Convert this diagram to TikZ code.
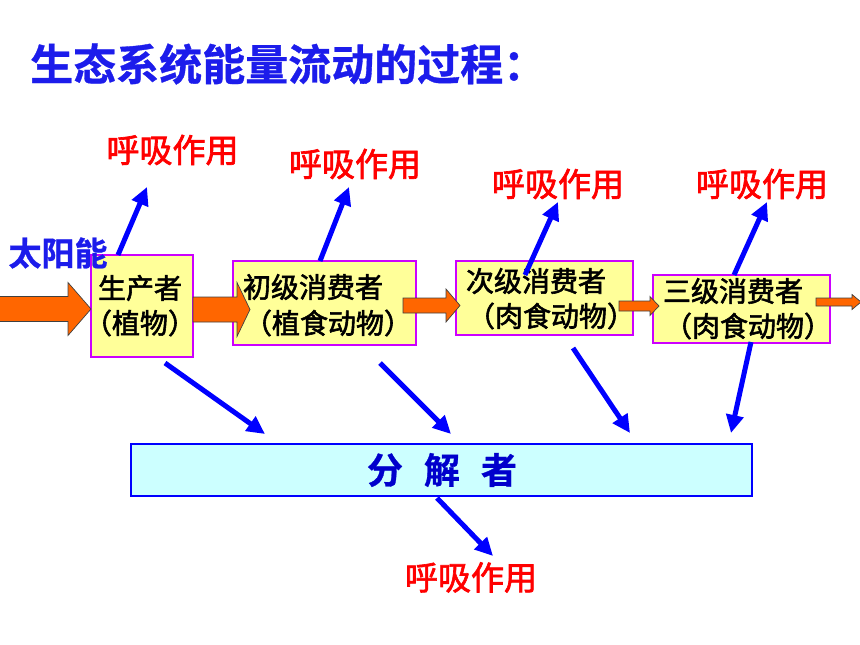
\documentclass[tikz,border=0pt]{standalone}
\usepackage{fontspec}
\setmainfont{Noto Sans CJK SC}
\newfontfamily\cjk[FakeBold=2]{Noto Sans CJK SC}
\newfontfamily\cjkb[FakeBold=0.8]{Noto Sans CJK SC Bold}
\usetikzlibrary{arrows.meta}
\definecolor{ttlblue}{RGB}{28,28,235}
\definecolor{boxmag}{RGB}{204,0,255}
\definecolor{boxyel}{RGB}{255,255,153}
\definecolor{decfill}{RGB}{204,255,255}
\definecolor{decblue}{RGB}{0,0,204}
\definecolor{flowor}{RGB}{255,102,0}
\tikzset{
  lbl/.style={text=red, font=\cjk\fontsize{33}{36}\selectfont, inner sep=0pt},
  boxtxt/.style={font=\cjk\fontsize{28}{30}\selectfont, inner sep=0pt},
  orgbox/.style={draw=boxmag, line width=2pt, fill=boxyel, inner sep=0pt},
  decbox/.style={draw=blue, line width=2.5pt, fill=decfill, inner sep=0pt},
  flow/.style={draw=black!75, line width=0.7pt, fill=flowor},
  resp/.style={draw=blue, line width=5pt, -{Triangle[length=18pt,width=17pt]}},
}
\newcommand\blockarr[6]{%
  \filldraw[flow] (#1,#4-#5) -- (#2,#4-#5) -- (#2,#4-#6) -- (#3,#4) -- (#2,#4+#6) -- (#2,#4+#5) -- (#1,#4+#5) -- cycle;}
\begin{document}
\begin{tikzpicture}[x=1pt,y=-1pt]
\useasboundingbox (0,0) rectangle (860,645);
% title
\node[anchor=west, inner sep=0pt, text=ttlblue, font=\cjkb\fontsize{43}{46}\selectfont] (title) at (30,64) {生态系统能量流动的过程：};
% organism boxes
\node[orgbox, minimum width=102pt, minimum height=102pt] (b1) at (142,306) {};
\node[orgbox, minimum width=183pt, minimum height=84pt] (b2) at (324.5,303) {};
\node[orgbox, minimum width=177pt, minimum height=74pt] (b3) at (544.5,298) {};
\node[orgbox, minimum width=177pt, minimum height=68pt] (b4) at (741.5,309) {};
\node[decbox, minimum width=621pt, minimum height=52pt] (dec) at (441.5,470) {};
% energy flow arrows
\blockarr{-2}{68}{91}{309}{12.5}{26.5}
\blockarr{193}{237}{250}{309.5}{12.5}{27}
\blockarr{403}{446}{460}{305.5}{7.5}{16.5}
\blockarr{619}{650}{659}{306}{5}{9.5}
\blockarr{816}{852}{861}{302}{4}{7.5}
% texts in boxes
\node[boxtxt] (t1a) at (140,288) {生产者};
\node[boxtxt] (t1b) at (140,323) {（植物）};
\node[boxtxt] (t2a) at (313,287) {初级消费者};
\node[boxtxt] (t2b) at (328,323) {（植食动物）};
\node[boxtxt] (t3a) at (536,281) {次级消费者};
\node[boxtxt] (t3b) at (551,316) {（肉食动物）};
\node[boxtxt] (t4a) at (733,291) {三级消费者};
\node[boxtxt] (t4b) at (748,326) {（肉食动物）};
% sun energy
\node[inner sep=0pt, text=ttlblue, font=\cjkb\fontsize{33}{36}\selectfont] (sun) at (58,253) {太阳能};
% decomposer text
\node[inner sep=0pt, text=decblue, font=\cjkb\fontsize{36}{40}\selectfont] (dect) at (442,470) {分\hspace{21pt}解\hspace{21pt}者};
% respiration labels
\node[lbl] (r1) at (172.5,150) {呼吸作用};
\node[lbl] (r2) at (355,164) {呼吸作用};
\node[lbl] (r3) at (558,184) {呼吸作用};
\node[lbl] (r4) at (762,184) {呼吸作用};
\node[lbl] (r5) at (471,577.5) {呼吸作用};
% arrow end points
\coordinate (u1s) at (118,255); \coordinate (u1e) at (147,187);
\coordinate (u2s) at (320,261); \coordinate (u2e) at (349,187);
\coordinate (u3s) at (525,275); \coordinate (u3e) at (558,202);
\coordinate (u4s) at (734,275); \coordinate (u4e) at (767,202);
\coordinate (d1s) at (165,363); \coordinate (d1e) at (265,434);
\coordinate (d2s) at (380,363); \coordinate (d2e) at (451,434);
\coordinate (d3s) at (573,348); \coordinate (d3e) at (630,433);
\coordinate (d4s) at (751,342); \coordinate (d4e) at (731,433);
\coordinate (d5s) at (437,498); \coordinate (d5e) at (493,556);
\draw[resp] (u1s) -- (u1e);
\draw[resp] (u2s) -- (u2e);
\draw[resp] (u3s) -- (u3e);
\draw[resp] (u4s) -- (u4e);
\draw[resp] (d1s) -- (d1e);
\draw[resp] (d2s) -- (d2e);
\draw[resp] (d3s) -- (d3e);
\draw[resp] (d4s) -- (d4e);
\draw[resp] (d5s) -- (d5e);
\end{tikzpicture}
\end{document}
